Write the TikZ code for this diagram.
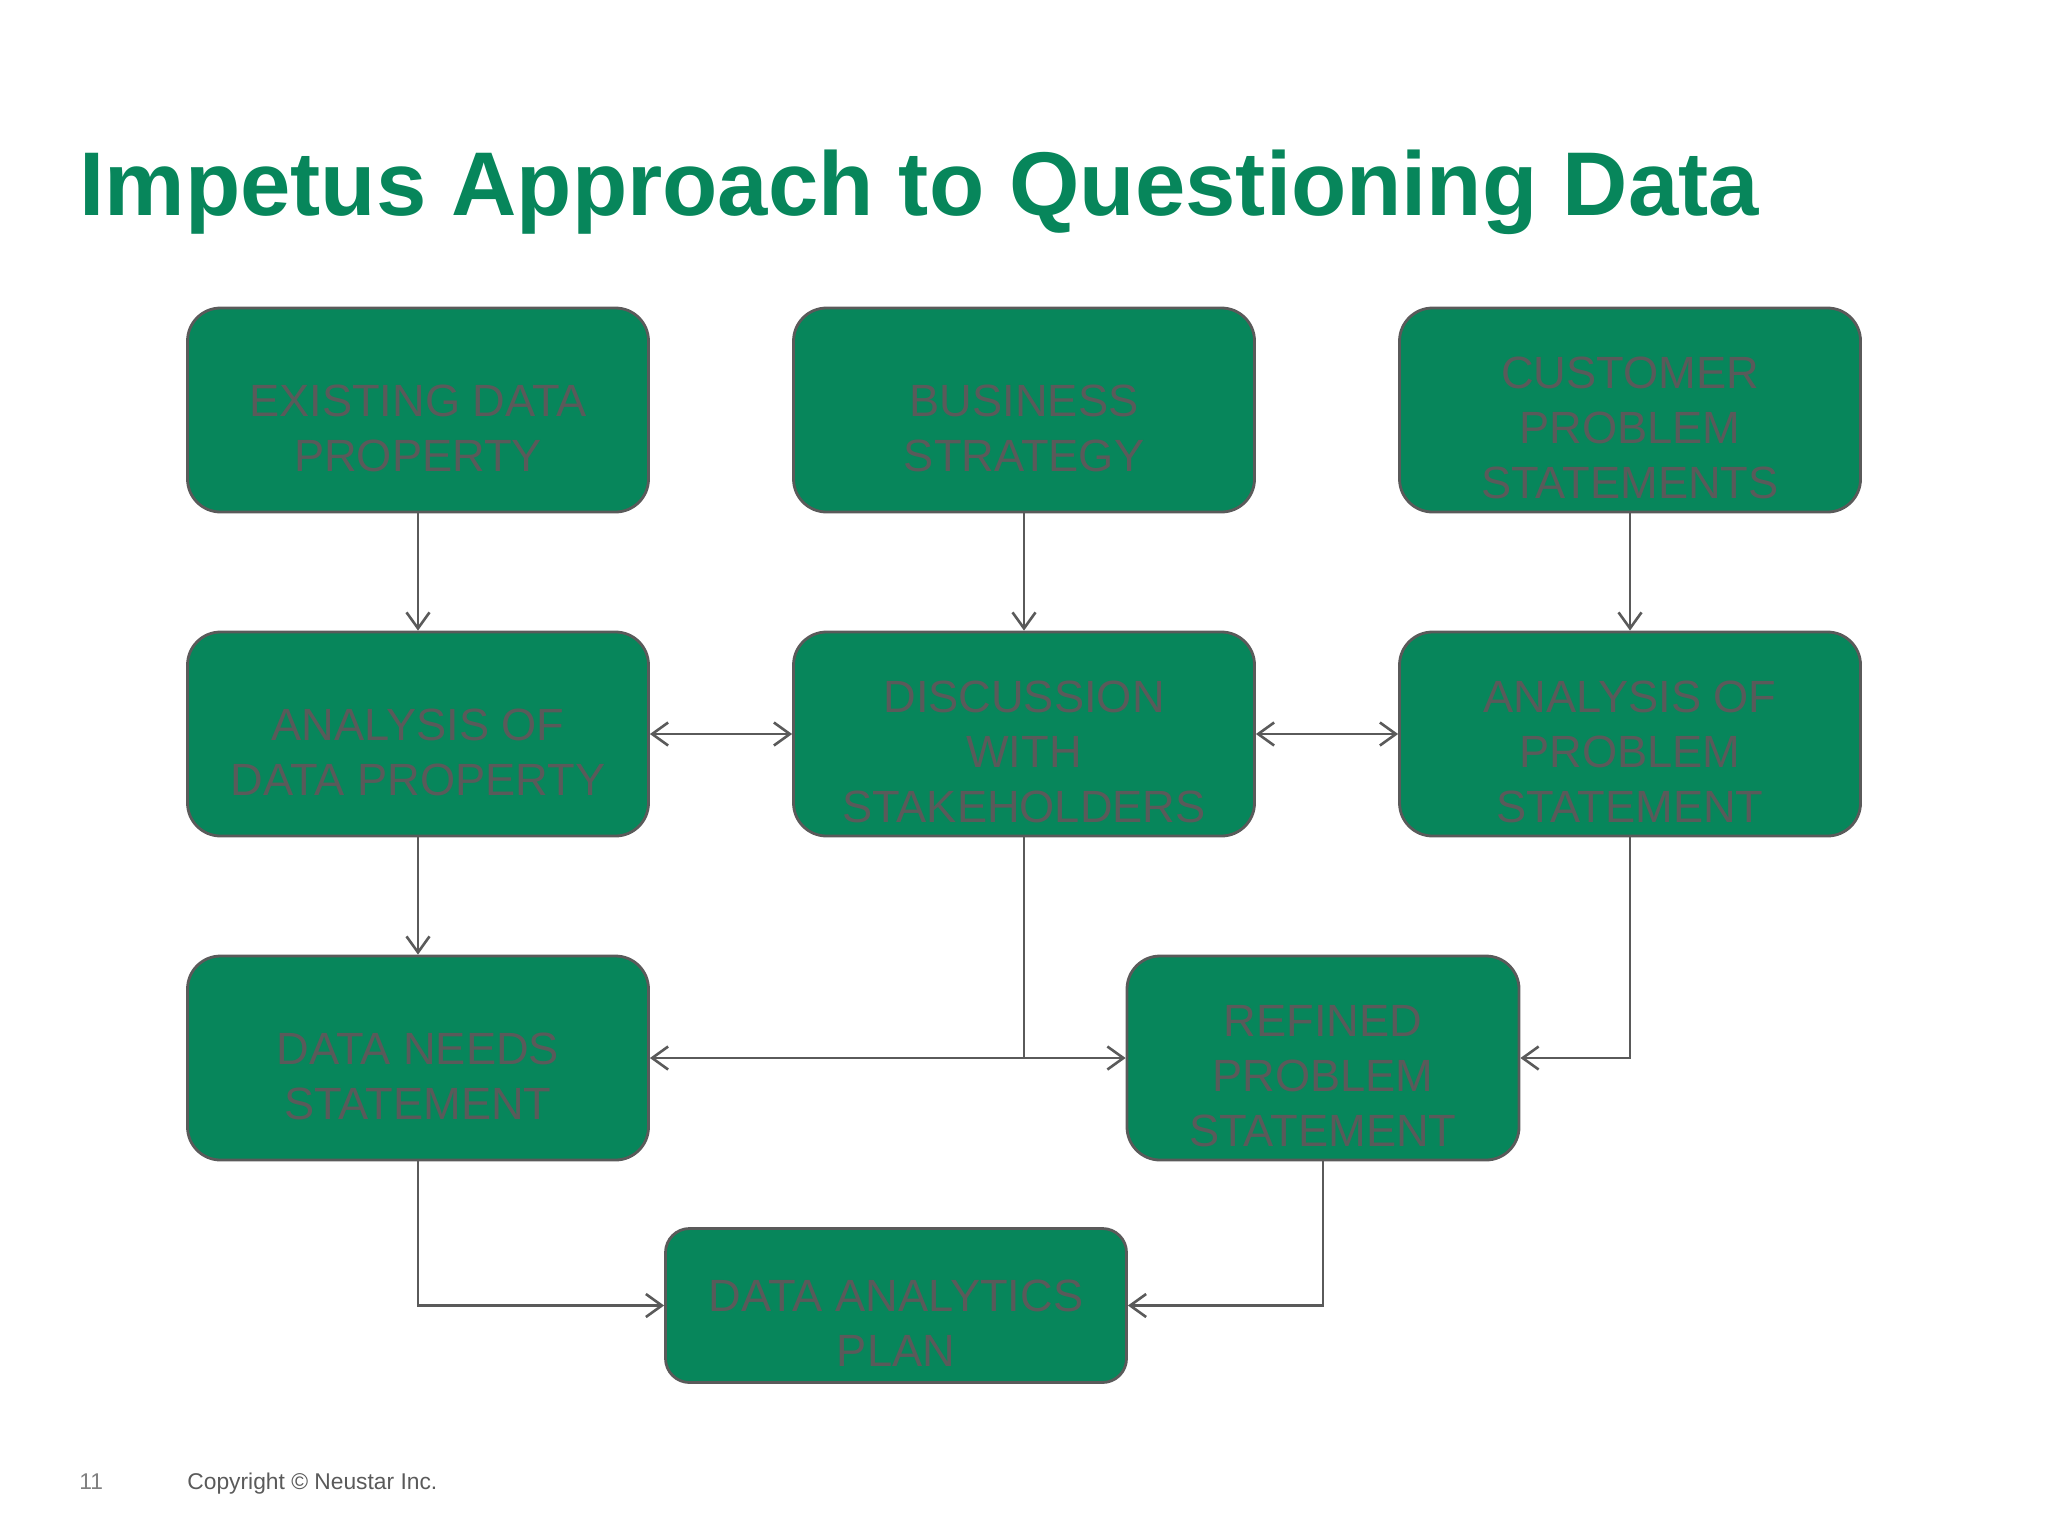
\documentclass[tikz,border=0pt]{standalone}
\usepackage{fontspec}
\setmainfont{Liberation Sans}
\usetikzlibrary{arrows.meta}
\definecolor{boxgreen}{HTML}{07865B}
\definecolor{linegrey}{HTML}{5A5A5A}
\newcommand{\lowtext}[1]{\raisebox{-16.5pt}[0pt][0pt]{\tabcolsep=0pt\begin{tabular}{c}#1\end{tabular}}}
\tikzset{
  main box/.style={rectangle,rounded corners=16.5pt,draw=linegrey,line width=1.4pt,fill=boxgreen,
    text=linegrey,inner sep=0pt,minimum width=230.5pt,minimum height=102pt,
    font=\fontsize{22.6}{27.5}\selectfont},
  main arrow/.style={draw=linegrey,line width=1.3pt,-{Straight Barb[length=8pt,width=11.5pt,line width=1.3pt]}},
  both arrow/.style={main arrow,{Straight Barb[length=8pt,width=11.5pt,line width=1.3pt]}-{Straight Barb[length=8pt,width=11.5pt,line width=1.3pt]}}
}
\begin{document}
\begin{tikzpicture}[x=0.5pt,y=-0.5pt]
  \useasboundingbox (0,0) rectangle (2048,1536);
  \node[anchor=base west,inner sep=0pt,text=boxgreen,font=\fontsize{45.25}{50}\selectfont\bfseries] (title) at (79,215) {Impetus Approach to Questioning Data};

  \foreach \name/\x/\y/\txt in {exist/418/410/{EXISTING DATA\\PROPERTY},
    strategy/1024/410/{BUSINESS\\STRATEGY},
    customer/1630/410/{CUSTOMER\\PROBLEM\\STATEMENTS},
    anadata/418/734/{ANALYSIS OF\\DATA PROPERTY},
    discuss/1024/734/{DISCUSSION\\WITH\\STAKEHOLDERS},
    anaprob/1630/734/{ANALYSIS OF\\PROBLEM\\STATEMENT},
    needs/418/1058/{DATA NEEDS\\STATEMENT}}
  \node[main box] (\name) at (\x,\y) {\lowtext{\txt}};
  \node[main box,minimum width=196pt] (refined) at (1323,1058) {\lowtext{REFINED\\PROBLEM\\STATEMENT}};
  \node[main box,minimum height=77pt,rounded corners=12pt] (plan) at (896,1305.5) {\lowtext{DATA ANALYTICS\\PLAN}};

  \draw[main arrow] (exist) -- (anadata);
  \draw[main arrow] (strategy) -- (discuss);
  \draw[main arrow] (customer) -- (anaprob);
  \draw[main arrow] (anadata) -- (needs);
  \draw[both arrow] (anadata) -- (discuss);
  \draw[both arrow] (discuss) -- (anaprob);

  \coordinate (split) at (1024,1058);
  \draw[draw=linegrey,line width=1.3pt] (discuss) -- (split);
  \draw[main arrow] (split) -- (needs);
  \draw[main arrow] (split) -- (refined);
  \draw[main arrow] (anaprob) |- (refined);
  \draw[main arrow] (needs) |- (plan);
  \draw[main arrow] (refined) |- (plan);

  \node[anchor=base west,inner sep=0pt,text=gray,font=\fontsize{11.4}{14}\selectfont] (pagenum) at (79,1489.5) {11};
  \node[anchor=base west,inner sep=0pt,text=linegrey,font=\fontsize{11.4}{14}\selectfont] (copyright) at (187,1489.5) {Copyright © Neustar Inc.};
\end{tikzpicture}
\end{document}
